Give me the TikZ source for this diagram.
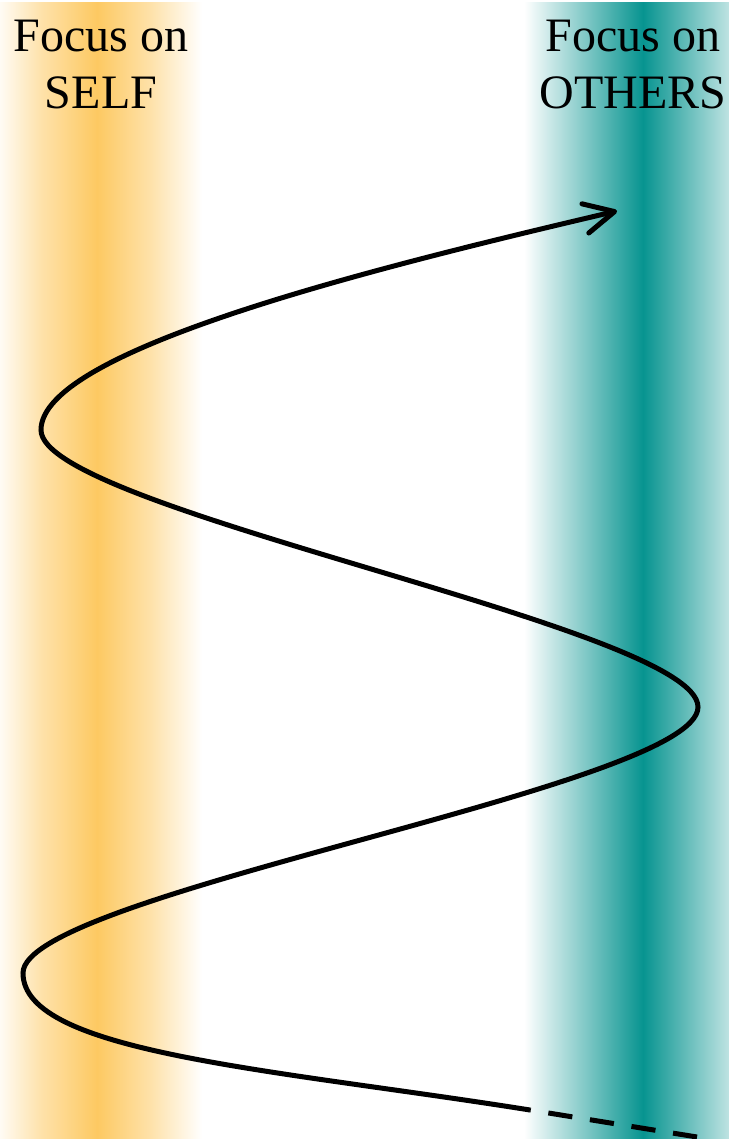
\documentclass[tikz,border=0pt]{standalone}
\usepackage{fontspec}
\setmainfont{Liberation Serif}
\usetikzlibrary{arrows.meta}
\definecolor{selfc}{HTML}{FDC962}
\definecolor{othc}{HTML}{079490}
\tikzset{
  curve/.style={line width=5pt, black},
  dashcurve/.style={line width=5pt, black, dash pattern=on 24.3pt off 17.8pt},
  lbl/.style={font=\fontsize{48}{57}\selectfont, align=center, inner sep=0pt, anchor=north},
}
\begin{document}
\begin{tikzpicture}[x=1pt,y=-1pt]
\useasboundingbox (0,0) rectangle (728,1139);
\fill[white] (0,0) rectangle (728,1139);
% bands
\shade[left color=white, right color=selfc!55] (-6,3) rectangle (42,1139);
\shade[left color=selfc!55, right color=selfc] (42,3) rectangle (97,1139);
\shade[left color=selfc, right color=selfc!55] (97,3) rectangle (150,1139);
\shade[left color=selfc!55, right color=white] (150,3) rectangle (202,1139);
\shade[left color=white, right color=othc!55] (524,3) rectangle (590,1139);
\shade[left color=othc!55, right color=othc] (590,3) rectangle (643,1139);
\shade[left color=othc, right color=othc!55] (643,3) rectangle (695,1139);
\shade[left color=othc!55, right color=white] (695,3) rectangle (760,1139);
% labels
\node[lbl] (self) at (101,20) {Focus on\\SELF};
\node[lbl] (others) at (633,20) {Focus on\\OTHERS};
% curve
\coordinate (s) at (530,1110);
\coordinate (e) at (697,1137);
\coordinate (t3) at (23,973);
\coordinate (t2) at (698,707);
\coordinate (t1) at (41,430);
\coordinate (tip) at (617,211);
\draw[dashcurve] (e) -- (s);
\draw[curve, -{Straight Barb[length=30pt,width=30pt,line cap=round,line join=round]}]
  (s) .. controls (273,1069) and (23,1053) .. (t3)
      .. controls (23,893) and (698,787) .. (t2)
      .. controls (698,627) and (41,510) .. (t1)
      .. controls (41,350) and (374,268) .. (tip);
\end{tikzpicture}
\end{document}
